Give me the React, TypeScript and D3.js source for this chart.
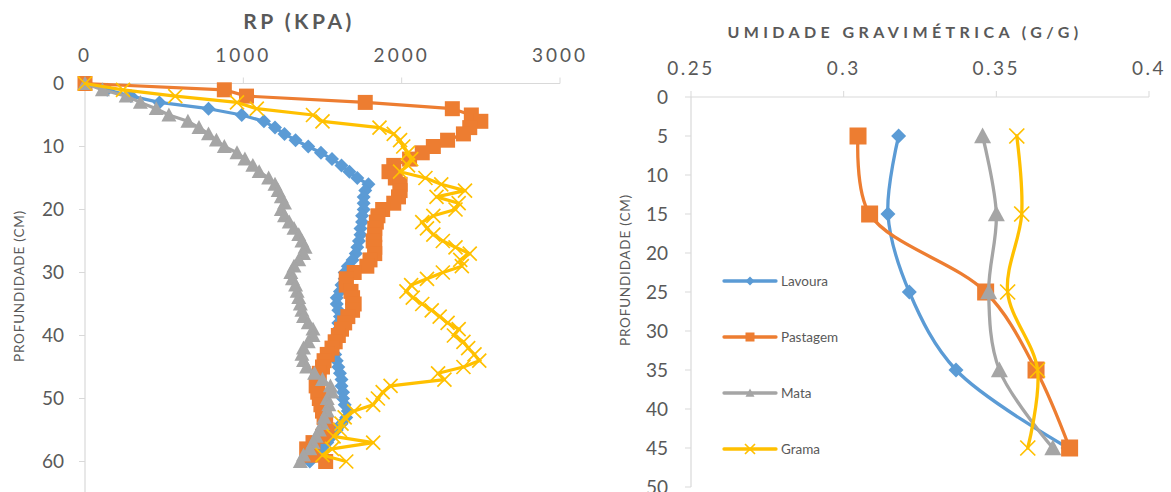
import React from "react";
import * as d3 from "d3";

// ---------- Left chart: penetration resistance (kPa) by depth (cm) ----------
const depthsRP = [0,1,2,3,4,5,6,7,8,9,10,11,12,13,14,15,16,17,18,19,20,21,22,23,24,25,26,27,28,29,30,31,32,33,34,35,36,37,38,39,40,41,42,43,44,45,46,47,48,49,50,51,52,53,54,55,56,57,58,59,60];
const lavouraRP = [0,140,290,470,780,990,1130,1200,1260,1330,1410,1490,1560,1620,1670,1720,1790,1770,1760,1760,1760,1750,1750,1740,1740,1730,1720,1710,1690,1660,1640,1640,1620,1610,1590,1590,1600,1610,1600,1600,1590,1580,1570,1580,1590,1600,1610,1620,1620,1630,1630,1640,1660,1650,1620,1590,1560,1530,1490,1450,1420];
const pastagemRP = [0,880,1020,1770,2320,2440,2500,2430,2390,2290,2200,2130,2050,1950,1920,1960,1990,1990,1980,1950,1880,1850,1840,1830,1830,1820,1830,1830,1800,1780,1700,1650,1650,1680,1690,1700,1690,1660,1640,1620,1600,1580,1560,1530,1510,1500,1480,1470,1460,1470,1480,1490,1500,1510,1520,1530,1500,1440,1400,1430,1520];
const mataRP = [0,110,260,350,450,530,650,720,780,830,880,960,1010,1060,1100,1160,1200,1220,1240,1260,1240,1260,1290,1320,1350,1370,1390,1380,1350,1320,1300,1310,1330,1340,1350,1360,1370,1380,1410,1440,1440,1410,1380,1370,1380,1400,1450,1500,1550,1560,1530,1540,1530,1510,1500,1480,1460,1440,1420,1380,1360];
const gramaRP = [0,240,570,960,1085,1440,1500,1860,1950,1990,2010,2040,2060,2040,1990,2150,2250,2400,2220,2360,2340,2200,2130,2160,2200,2260,2340,2430,2370,2380,2260,2160,2060,2030,2070,2130,2190,2240,2290,2360,2330,2390,2420,2460,2490,2390,2230,2270,1930,1880,1850,1820,1700,1640,1620,1610,1570,1820,1560,1500,1650];
const rpTicksX = [0, 1000, 2000, 3000];
const rpTicksY = [0, 10, 20, 30, 40, 50, 60];

// ---------- Right chart: gravimetric moisture (g/g) by depth (cm) ----------
const depthsUG = [5, 15, 25, 35, 45];
const lavouraUG = [0.318, 0.3145, 0.3215, 0.3368, 0.3735];
const pastagemUG = [0.3047, 0.3085, 0.3465, 0.363, 0.374];
const mataUG = [0.3455, 0.35, 0.3475, 0.351, 0.3685];
const gramaUG = [0.3567, 0.3583, 0.3537, 0.3635, 0.3603];
const ugTicksX = [0.25, 0.3, 0.35, 0.4];
const ugTicksY = [0, 5, 10, 15, 20, 25, 30, 35, 40, 45, 50];

const seriesNames = ["Lavoura", "Pastagem", "Mata", "Grama"];
const seriesColors = ["#5B9BD5", "#ED7D31", "#A5A5A5", "#FFC000"];
const seriesShapes = ["diamond", "square", "triangle", "x"];

const W = 1171;
const H = 492;
const TXT = "#595959";
const AX = "#D9D9D9";
const FONT = "Lato, 'Open Sans', sans-serif";

function Marker({ shape, x, y, s, color }: { shape: string; x: number; y: number; s: number; color: string }) {
  const r = s / 2;
  if (shape === "diamond") {
    return <path d={`M${x},${y - r}L${x + r},${y}L${x},${y + r}L${x - r},${y}Z`} fill={color} />;
  }
  if (shape === "square") {
    return <rect x={x - r} y={y - r} width={s} height={s} fill={color} />;
  }
  if (shape === "triangle") {
    return <path d={`M${x},${y - r}L${x + r},${y + r * 0.85}L${x - r},${y + r * 0.85}Z`} fill={color} />;
  }
  return (
    <path
      d={`M${x - r},${y - r}L${x + r},${y + r}M${x - r},${y + r}L${x + r},${y - r}`}
      stroke={color}
      strokeWidth={1.7}
      fill="none"
    />
  );
}

export default function App() {
  // Left scales
  const xL = d3.scaleLinear().domain([0, 3000]).range([85, 560]);
  const yL = d3.scaleLinear().domain([0, 65]).range([83.5, 493]);
  // Right scales
  const xR = d3.scaleLinear().domain([0.25, 0.4]).range([691, 1149]);
  const yR = d3.scaleLinear().domain([0, 50]).range([97, 487]);

  const rpSeries = [lavouraRP, pastagemRP, mataRP, gramaRP];
  const ugSeries = [lavouraUG, pastagemUG, mataUG, gramaUG];
  const markerL = [14, 15, 15, 14];
  const markerR = [15, 17, 17, 15];

  const lineL = d3
    .line<[number, number]>()
    .x((d) => xL(d[0]))
    .y((d) => yL(d[1]));
  const lineR = d3
    .line<[number, number]>()
    .x((d) => xR(d[0]))
    .y((d) => yR(d[1]))
    .curve(d3.curveCatmullRom.alpha(0.5));

  const legendY = [281, 337, 393, 449];

  return (
    <svg width={W} height={H} style={{ display: "block", position: "absolute", left: 0, top: 0 }} fontFamily={FONT}>
      <rect x={0} y={0} width={W} height={H} fill="#fff" />

      {/* ---------------- Left chart ---------------- */}
      <text x={299} y={29} textAnchor="middle" fontSize={21} fontWeight="bold" fill={TXT} letterSpacing={3.5}>
        RP (KPA)
      </text>
      {rpTicksX.map((t) => (
        <g key={"lx" + t}>
          <line x1={xL(t)} x2={xL(t)} y1={yL(0)} y2={yL(0) - 6} stroke={AX} strokeWidth={1} />
          <text x={xL(t)} y={62} textAnchor="middle" fontSize={19} fill={TXT} letterSpacing={3}>
            {t}
          </text>
        </g>
      ))}
      <line x1={xL(0)} x2={xL(3000)} y1={yL(0)} y2={yL(0)} stroke={AX} strokeWidth={1.2} />
      <line x1={xL(0)} x2={xL(0)} y1={yL(0)} y2={H} stroke={AX} strokeWidth={1.2} />
      {rpTicksY.map((t) => (
        <g key={"ly" + t}>
          <line x1={xL(0) - 6} x2={xL(0)} y1={yL(t)} y2={yL(t)} stroke={AX} strokeWidth={1} />
          <text x={64} y={yL(t) + 6.5} textAnchor="end" fontSize={19} fill={TXT}>
            {t}
          </text>
        </g>
      ))}
      <text
        transform={`translate(24,286) rotate(-90)`}
        textAnchor="middle"
        fontSize={13.5}
        fill={TXT}
        letterSpacing={0.8}
      >
        PROFUNDIDADE (CM)
      </text>
      {rpSeries.map((vals, i) => {
        const pts: [number, number][] = vals.map((v, k) => [v, depthsRP[k]]);
        return (
          <g key={"ls" + i}>
            <path d={lineL(pts) || ""} fill="none" stroke={seriesColors[i]} strokeWidth={3.2} strokeLinejoin="round" />
            {pts.map((p, k) => (
              <Marker key={k} shape={seriesShapes[i]} x={xL(p[0])} y={yL(p[1])} s={markerL[i]} color={seriesColors[i]} />
            ))}
          </g>
        );
      })}

      {/* ---------------- Right chart ---------------- */}
      <text x={905} y={38} textAnchor="middle" fontSize={16} fontWeight="bold" fill={TXT} letterSpacing={4.4}>
        UMIDADE GRAVIMÉTRICA (G/G)
      </text>
      {ugTicksX.map((t) => (
        <g key={"rx" + t}>
          <line x1={xR(t)} x2={xR(t)} y1={yR(0)} y2={yR(0) - 6} stroke={AX} strokeWidth={1} />
          <text x={xR(t)} y={75} textAnchor="middle" fontSize={19} fill={TXT} letterSpacing={2.5}>
            {String(t)}
          </text>
        </g>
      ))}
      <line x1={xR(0.25)} x2={xR(0.4)} y1={yR(0)} y2={yR(0)} stroke={AX} strokeWidth={1.2} />
      <line x1={xR(0.25)} x2={xR(0.25)} y1={yR(0)} y2={yR(50)} stroke={AX} strokeWidth={1.2} />
      {ugTicksY.map((t) => (
        <g key={"ry" + t}>
          <line x1={xR(0.25) - 6} x2={xR(0.25)} y1={yR(t)} y2={yR(t)} stroke={AX} strokeWidth={1} />
          <text x={668} y={yR(t) + 6.5} textAnchor="end" fontSize={19} fill={TXT}>
            {t}
          </text>
        </g>
      ))}
      <text
        transform={`translate(630,270) rotate(-90)`}
        textAnchor="middle"
        fontSize={13.5}
        fill={TXT}
        letterSpacing={0.8}
      >
        PROFUNDIDADE (CM)
      </text>
      {ugSeries.map((vals, i) => {
        const pts: [number, number][] = vals.map((v, k) => [v, depthsUG[k]]);
        return (
          <g key={"rs" + i}>
            <path d={lineR(pts) || ""} fill="none" stroke={seriesColors[i]} strokeWidth={3.3} strokeLinecap="round" />
            {pts.map((p, k) => (
              <Marker key={k} shape={seriesShapes[i]} x={xR(p[0])} y={yR(p[1])} s={markerR[i]} color={seriesColors[i]} />
            ))}
          </g>
        );
      })}

      {/* Legend */}
      {seriesNames.map((name, i) => (
        <g key={"lg" + i}>
          <line x1={724} x2={776} y1={legendY[i]} y2={legendY[i]} stroke={seriesColors[i]} strokeWidth={3.3} strokeLinecap="round" />
          <Marker shape={seriesShapes[i]} x={750} y={legendY[i]} s={i === 3 ? 10 : 9} color={seriesColors[i]} />
          <text x={781} y={legendY[i] + 5} fontSize={13.5} fill={TXT}>
            {name}
          </text>
        </g>
      ))}
    </svg>
  );
}
